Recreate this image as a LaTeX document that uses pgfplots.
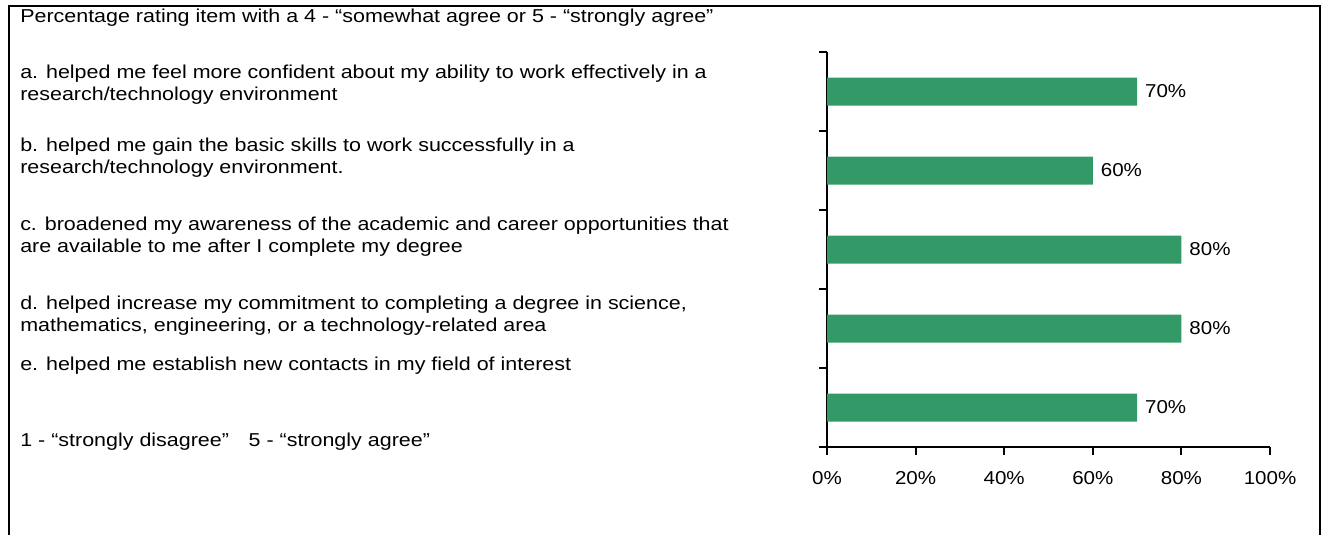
\documentclass[border=0pt]{standalone}
\usepackage{pgfplots}
\pgfplotsset{compat=1.18}
\usepackage{fontspec}
\setmainfont{Liberation Sans}
\newfontfamily\leftfont[FakeStretch=1.15]{Liberation Sans}
\newfontfamily\chartfont[FakeStretch=1.1]{Liberation Sans}
\definecolor{bargreen}{RGB}{51,153,102}
\begin{document}
\begin{tikzpicture}[font=\leftfont\fontsize{14}{16}\selectfont]
\useasboundingbox (0,0) rectangle (991.5pt,-401.25pt);
\draw[line width=1.5pt] (6.75pt,-420pt) -- (6.75pt,-4.5pt) -- (990pt,-4.5pt) -- (990pt,-420pt);
\node[anchor=west,inner sep=0pt] at (15pt,-13.25pt) {Percentage rating item with a 4 - “somewhat agree or 5 - “strongly agree”};
\node[anchor=west,inner sep=0pt] at (15pt,-55.25pt) {a. helped me feel more confident about my ability to work effectively in a};
\node[anchor=west,inner sep=0pt] at (15pt,-71.75pt) {research/technology environment};
\node[anchor=west,inner sep=0pt] at (15pt,-110pt) {b. helped me gain the basic skills to work successfully in a};
\node[anchor=west,inner sep=0pt] at (15pt,-126.5pt) {research/technology environment.};
\node[anchor=west,inner sep=0pt] at (15pt,-169.25pt) {c. broadened my awareness of the academic and career opportunities that};
\node[anchor=west,inner sep=0pt] at (15pt,-185.75pt) {are available to me after I complete my degree};
\node[anchor=west,inner sep=0pt] at (15pt,-228.5pt) {d. helped increase my commitment to completing a degree in science,};
\node[anchor=west,inner sep=0pt] at (15pt,-245pt) {mathematics, engineering, or a technology-related area};
\node[anchor=west,inner sep=0pt] at (15pt,-274pt) {e. helped me establish new contacts in my field of interest};
\node[anchor=west,inner sep=0pt] at (15pt,-331pt) {1 - “strongly disagree”\hspace{1.05em}5 - “strongly agree”};
\begin{axis}[
  at={(620.25pt,-335.25pt)}, anchor=south west,
  scale only axis, width=332.25pt, height=296.25pt,
  xbar, bar width=21pt,
  xmin=0, xmax=100, ymin=-0.5, ymax=4.5,
  axis x line=bottom, axis y line=left,
  axis line style={line width=1.4pt,-},
  xtick={0,20,40,60,80,100},
  xticklabel={\pgfmathprintnumber{\tick}\%},
  /pgf/number format/assume math mode=true,
  xticklabel style={font=\chartfont\fontsize{14}{16}\selectfont, yshift=-9pt},
  ytick={-0.5,0.5,1.5,2.5,3.5,4.5}, yticklabels={},
  tick align=outside, major tick length=6pt,
  tick style={line width=1.4pt,black},
  nodes near coords={\pgfmathprintnumber{\pgfplotspointmeta}\%},
  nodes near coords style={font=\chartfont\fontsize{14}{16}\selectfont, anchor=west, xshift=2.5pt},
  clip=false,
]
\addplot[fill=bargreen, draw=none] coordinates {(70,4) (60,3) (80,2) (80,1) (70,0)};
\end{axis}
\end{tikzpicture}
\end{document}
